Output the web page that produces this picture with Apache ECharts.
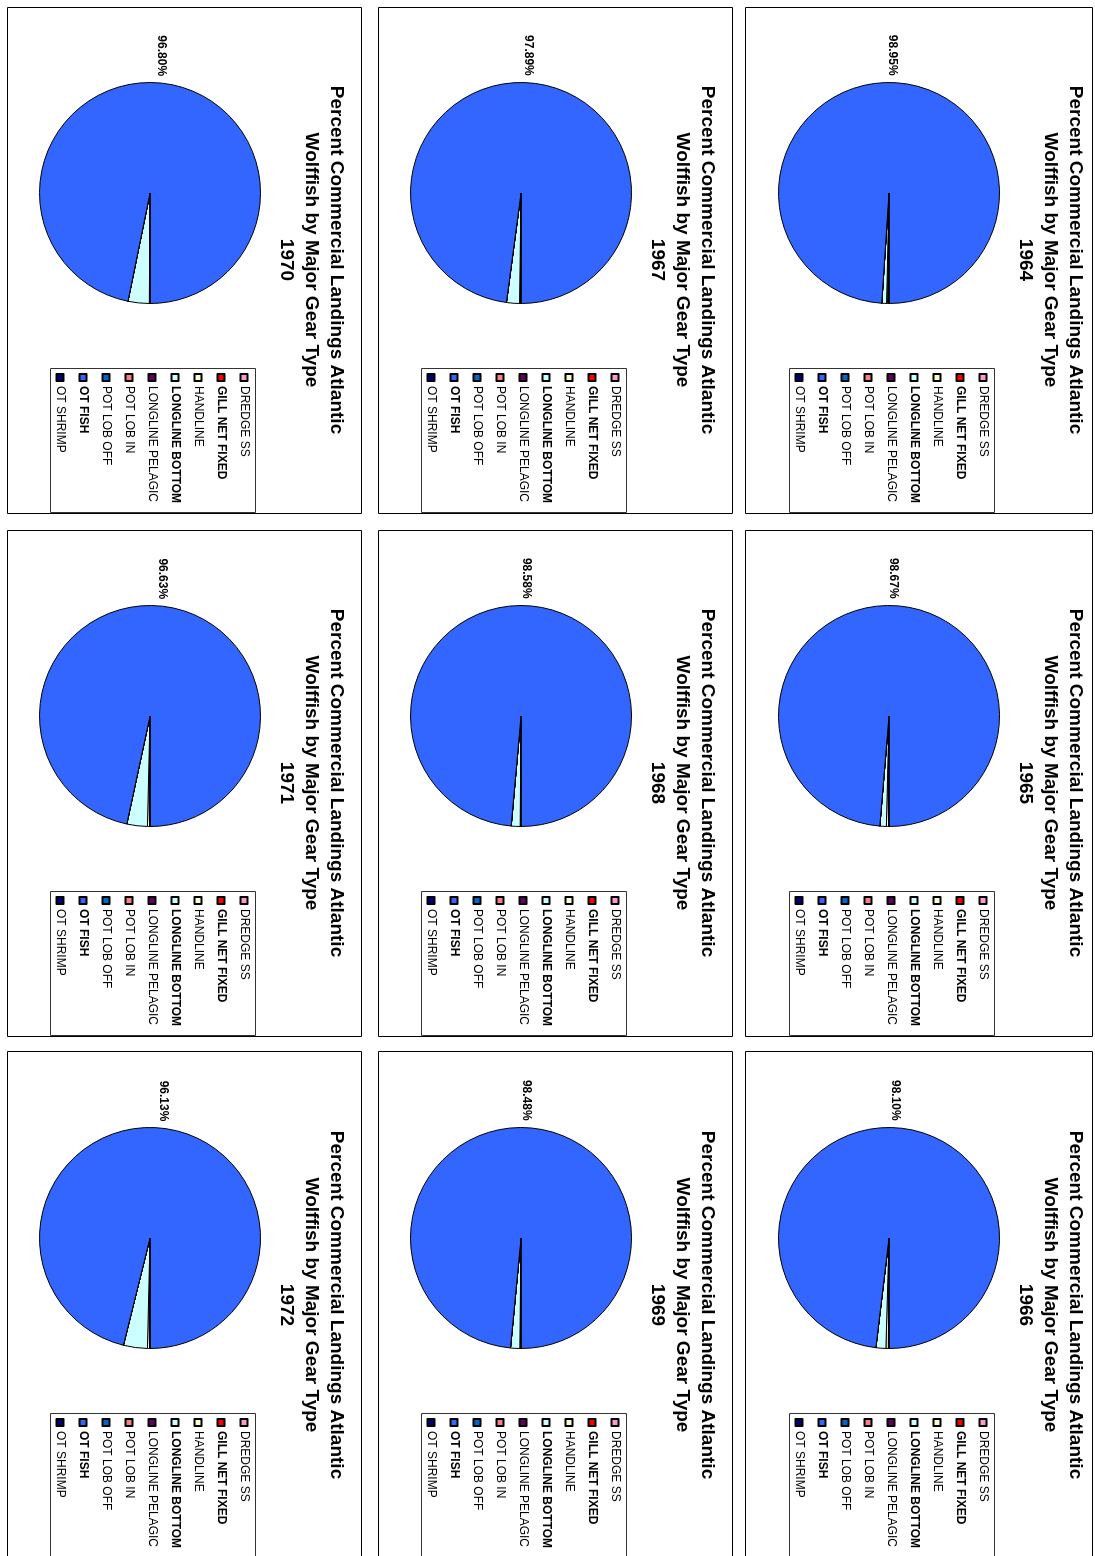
<!DOCTYPE html>
<html><head><meta charset="utf-8">
<script src="https://cdn.jsdelivr.net/npm/echarts@6/dist/echarts.min.js"></script>
<style>
html,body{margin:0;padding:0;background:#fff;overflow:hidden;width:1095px;height:1556px;}
#wrap{position:absolute;left:0;top:0;width:1556px;height:1095px;transform-origin:0 0;transform:translateX(1095px) rotate(90deg);}
</style></head><body><div id="wrap"></div>
<script>
// ---- data ----
const gearTypes = ['DREDGE SS','GILL NET FIXED','HANDLINE','LONGLINE BOTTOM','LONGLINE PELAGIC','POT LOB IN','POT LOB OFF','OT FISH','OT SHRIMP'];
const gearColors = ['#FF99CC','#FF0000','#FFFFCC','#CCFFFF','#660066','#FF8080','#0066CC','#3366FF','#000080'];
const boldGear = ['GILL NET FIXED','LONGLINE BOTTOM','OT FISH'];
const years = [1964,1965,1966,1967,1968,1969,1970,1971,1972];
const share1964 = [0.05,0.15,0.15,0.70,0,0,0,98.95,0];
const share1965 = [0,0.08,0.30,0.95,0,0,0,98.67,0];
const share1966 = [0,0.10,0.35,1.45,0,0,0,98.10,0];
const share1967 = [0,0.15,0.06,1.90,0,0,0,97.89,0];
const share1968 = [0,0.12,0,1.30,0,0,0,98.58,0];
const share1969 = [0,0.10,0.07,1.35,0,0,0,98.48,0];
const share1970 = [0,0.10,0,3.10,0,0,0,96.80,0];
const share1971 = [0,0.07,0.30,3.00,0,0,0,96.63,0];
const share1972 = [0,0.07,0.30,3.50,0,0,0,96.13,0];
const shares = [share1964,share1965,share1966,share1967,share1968,share1969,share1970,share1971,share1972];
const titleLines = ['Percent Commercial Landings Atlantic','Wolffish by Major Gear Type'];

// ---- layout (unrotated page frame) ----
const FONT = '"Liberation Sans", Arial, sans-serif';
const pieU = [193, 716, 1238];
const pieV = [206, 574, 945];
const panelU = [[7,513],[530,1036],[1051,1560]];
const panelV = [[2,349],[362,716],[733,1087]];
const R = 110.5;

const chart = echarts.init(document.getElementById('wrap'), null, {renderer:'canvas'});
const titles = [], legends = [], series = [], graphics = [];
years.forEach((yr, i) => {
  const c = i % 3, r = Math.floor(i / 3);
  const pu = pieU[c], pv = pieV[r];
  graphics.push({type:'rect', silent:true, z:-10,
    shape:{x:panelU[c][0]+0.5, y:panelV[r][0]+0.5, width:panelU[c][1]-panelU[c][0], height:panelV[r][1]-panelV[r][0]},
    style:{fill:'#fff', stroke:'#000', lineWidth:1}});
  graphics.push({type:'rect', silent:true, z:-5,
    shape:{x:pu+175.5, y:pv-105.5, width:144, height:205},
    style:{fill:'#fff', stroke:'#333', lineWidth:1}});
  titles.push({text: titleLines.concat([String(yr)]).join('\n'), left: pu+67, top: pv-199, padding:0,
    textAlign:'center', textStyle:{fontFamily:FONT, fontSize:19, fontWeight:'bold', color:'#000', lineHeight:25}});
  legends.push({orient:'vertical', left: pu+180, top: pv-101, padding:0, itemWidth:7, itemHeight:7, itemGap:9,
    icon:'rect', selectedMode:false, data: gearTypes,
    formatter: n => boldGear.includes(n) ? '{b|' + n + '}' : '{n|' + n + '}',
    textStyle:{fontFamily:FONT, fontSize:12, color:'#000', lineHeight:14,
      rich:{b:{fontFamily:FONT, fontSize:12, fontWeight:'bold', color:'#000', lineHeight:14},
            n:{fontFamily:FONT, fontSize:12, color:'#000', lineHeight:14}}}});
  series.push({type:'pie', name:String(yr), center:[pu, pv], radius:R, startAngle:0, clockwise:true,
    percentPrecision:2, avoidLabelOverlap:false, animation:false, silent:true,
    itemStyle:{borderColor:'#000', borderWidth:1},
    label:{show:true, position:'outside', fontFamily:FONT, fontSize:12, fontWeight:'bold', color:'#000',
      formatter: p => p.name === 'OT FISH' ? p.percent.toFixed(2) + '%' : ''},
    labelLine:{show:false, length:2, length2:0},
    emphasis:{disabled:true},
    data: gearTypes.map((n, k) => ({name:n, value:shares[i][k], itemStyle:{color:gearColors[k]}}))});
});
chart.setOption({animation:false, backgroundColor:'#fff', title:titles, legend:legends, series:series, graphic:graphics});
</script></body></html>
